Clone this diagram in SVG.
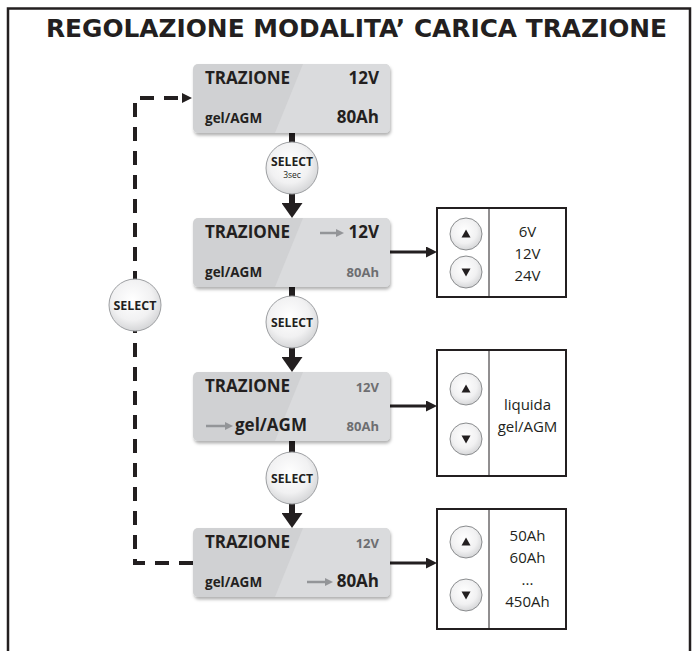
<svg xmlns="http://www.w3.org/2000/svg" xmlns:xlink="http://www.w3.org/1999/xlink" width="696" height="651" viewBox="0 0 696 651">
<defs>
<style>
.title{font-family:'DejaVu Sans',Verdana,sans-serif;font-weight:700;font-size:24px;fill:#231f20}
.big{font-family:'Open Sans','Noto Sans',sans-serif;font-weight:700;font-size:17px;fill:#231f20}
.sm{font-family:'Open Sans','Noto Sans',sans-serif;font-weight:700;font-size:13.5px;fill:#231f20}
.gr{font-family:'Open Sans','Noto Sans',sans-serif;font-weight:700;font-size:13px;fill:#6d6e71}
.sel{font-family:'Open Sans','Noto Sans',sans-serif;font-weight:700;font-size:12.5px;fill:#231f20}
.sec{font-family:'Open Sans','Noto Sans',sans-serif;font-weight:400;font-size:8.5px;fill:#231f20}
.opt{font-family:'Open Sans','Noto Sans',sans-serif;font-weight:400;font-size:15px;fill:#231f20}
.thick{stroke:#231f20;stroke-width:6;fill:none}
.med{stroke:#231f20;stroke-width:3;fill:none}
.dash{stroke:#231f20;stroke-width:4;fill:none;stroke-dasharray:14 10}
.garr{stroke:#939598;stroke-width:2.5;fill:none}
.box{fill:#ffffff;stroke:#231f20;stroke-width:2}
.div{stroke:#231f20;stroke-width:1}
</style>
<radialGradient id="selGrad" cx="0.45" cy="0.4" r="0.65">
<stop offset="0" stop-color="#ffffff"/>
<stop offset="0.6" stop-color="#f1f1f2"/>
<stop offset="1" stop-color="#cfd0d2"/>
</radialGradient>
<filter id="shadow" x="-10%" y="-10%" width="125%" height="135%">
<feDropShadow dx="1" dy="2.5" stdDeviation="1.8" flood-color="#000" flood-opacity="0.3"/>
</filter>
<marker id="ahBig" markerUnits="userSpaceOnUse" markerWidth="15" markerHeight="21" refX="0" refY="10.5" orient="auto">
<path d="M0,0 L15,10.5 L0,21 Z" fill="#231f20"/>
</marker>
<marker id="ahMed" markerUnits="userSpaceOnUse" markerWidth="11" markerHeight="11" refX="0" refY="5.5" orient="auto">
<path d="M0,0 L11,5.5 L0,11 Z" fill="#231f20"/>
</marker>
<marker id="ahSm" markerUnits="userSpaceOnUse" markerWidth="10" markerHeight="10" refX="0" refY="5" orient="auto">
<path d="M0,0 L10,5 L0,10 Z" fill="#231f20"/>
</marker>
<marker id="ahGray" markerUnits="userSpaceOnUse" markerWidth="8" markerHeight="8" refX="0" refY="4" orient="auto">
<path d="M0,0 L8,4 L0,8 Z" fill="#939598"/>
</marker>
<g id="lcdBg">
<rect x="0" y="0" width="197" height="69" rx="5" fill="#d0d1d3" filter="url(#shadow)"/>
<path d="M110,0 H192 A5,5 0 0 1 197,5 V64 A5,5 0 0 1 192,69 H82 Z" fill="#dadbdd"/>
</g>
<g id="selBtn">
<circle cx="0" cy="0" r="26" fill="url(#selGrad)" stroke="#9d9fa2" stroke-width="1"/>
</g>
<g id="btnUp">
<circle cx="0" cy="0" r="16" fill="url(#selGrad)" stroke="#8a8c8e" stroke-width="1"/>
<path d="M-4.5,3.5 L4.5,3.5 L0,-4.5 Z" fill="#231f20"/>
</g>
<g id="btnDown">
<circle cx="0" cy="0" r="16" fill="url(#selGrad)" stroke="#8a8c8e" stroke-width="1"/>
<path d="M-4.5,-3.5 L4.5,-3.5 L0,4.5 Z" fill="#231f20"/>
</g>
</defs>

<rect x="0" y="0" width="696" height="651" fill="#ffffff"/>
<path d="M8,651 V8.5 H690 V651" stroke="#231f20" stroke-width="2.5" fill="none"/>
<text class="title" x="46" y="37" textLength="621" lengthAdjust="spacingAndGlyphs">REGOLAZIONE MODALITA’ CARICA TRAZIONE</text>

<g id="connectors">
<path class="dash" d="M193,563 H135 V98 H182" marker-end="url(#ahSm)"/>
<line class="thick" x1="292" y1="132" x2="292" y2="143"/>
<line class="thick" x1="292" y1="193" x2="292" y2="203" marker-end="url(#ahBig)"/>
<line class="thick" x1="292" y1="287" x2="292" y2="297"/>
<line class="thick" x1="292" y1="347" x2="292" y2="357" marker-end="url(#ahBig)"/>
<line class="thick" x1="292" y1="441" x2="292" y2="453"/>
<line class="thick" x1="292" y1="503" x2="292" y2="513" marker-end="url(#ahBig)"/>
<line class="med" x1="390" y1="252" x2="426" y2="252" marker-end="url(#ahMed)"/>
<line class="med" x1="390" y1="406" x2="426" y2="406" marker-end="url(#ahMed)"/>
<line class="med" x1="390" y1="563" x2="426" y2="563" marker-end="url(#ahMed)"/>
</g>

<g id="lcd1" transform="translate(193,64)">
<use xlink:href="#lcdBg" href="#lcdBg"/>
<text class="big" x="12" y="20">TRAZIONE</text>
<text class="big" x="186" y="20" text-anchor="end">12V</text>
<text class="sm" x="12" y="59">gel/AGM</text>
<text class="big" x="186" y="59" text-anchor="end">80Ah</text>
</g>

<g id="select1" transform="translate(292,168)">
<use xlink:href="#selBtn" href="#selBtn"/>
<text class="sel" x="0" y="-2.5" text-anchor="middle" textLength="42" lengthAdjust="spacingAndGlyphs">SELECT</text>
<text class="sec" x="0" y="10" text-anchor="middle">3sec</text>
</g>

<g id="lcd2" transform="translate(193,218)">
<use xlink:href="#lcdBg" href="#lcdBg"/>
<text class="big" x="12" y="20">TRAZIONE</text>
<line class="garr" x1="127" y1="15" x2="143" y2="15" marker-end="url(#ahGray)"/>
<text class="big" x="186" y="20" text-anchor="end">12V</text>
<text class="sm" x="12" y="59">gel/AGM</text>
<text class="gr" x="186" y="59" text-anchor="end">80Ah</text>
</g>

<g id="options1">
<rect class="box" x="437" y="208" width="129" height="89"/>
<line class="div" x1="489" y1="208" x2="489" y2="297"/>
<use xlink:href="#btnUp" href="#btnUp" x="466" y="234"/>
<use xlink:href="#btnDown" href="#btnDown" x="466" y="272"/>
<text class="opt" x="527.5" y="237" text-anchor="middle">6V</text>
<text class="opt" x="527.5" y="259" text-anchor="middle">12V</text>
<text class="opt" x="527.5" y="281" text-anchor="middle">24V</text>
</g>

<g id="select2" transform="translate(292,322)">
<use xlink:href="#selBtn" href="#selBtn"/>
<text class="sel" x="0" y="4.5" text-anchor="middle" textLength="42" lengthAdjust="spacingAndGlyphs">SELECT</text>
</g>

<g id="lcd3" transform="translate(193,372)">
<use xlink:href="#lcdBg" href="#lcdBg"/>
<text class="big" x="12" y="20">TRAZIONE</text>
<text class="gr" x="186" y="20" text-anchor="end">12V</text>
<line class="garr" x1="13" y1="54" x2="32" y2="54" marker-end="url(#ahGray)"/>
<text class="big" x="42" y="59">gel/AGM</text>
<text class="gr" x="186" y="59" text-anchor="end">80Ah</text>
</g>

<g id="options2">
<rect class="box" x="437" y="350" width="129" height="126"/>
<line class="div" x1="489" y1="350" x2="489" y2="476"/>
<use xlink:href="#btnUp" href="#btnUp" x="466" y="389"/>
<use xlink:href="#btnDown" href="#btnDown" x="466" y="439"/>
<text class="opt" x="527.5" y="410" text-anchor="middle">liquida</text>
<text class="opt" x="527.5" y="432" text-anchor="middle">gel/AGM</text>
</g>

<g id="select3" transform="translate(292,478)">
<use xlink:href="#selBtn" href="#selBtn"/>
<text class="sel" x="0" y="4.5" text-anchor="middle" textLength="42" lengthAdjust="spacingAndGlyphs">SELECT</text>
</g>

<g id="lcd4" transform="translate(193,528)">
<use xlink:href="#lcdBg" href="#lcdBg"/>
<text class="big" x="12" y="20">TRAZIONE</text>
<text class="gr" x="186" y="20" text-anchor="end">12V</text>
<text class="sm" x="12" y="59">gel/AGM</text>
<line class="garr" x1="114" y1="54" x2="132" y2="54" marker-end="url(#ahGray)"/>
<text class="big" x="186" y="59" text-anchor="end">80Ah</text>
</g>

<g id="options3">
<rect class="box" x="437" y="509" width="129" height="120"/>
<line class="div" x1="489" y1="509" x2="489" y2="629"/>
<use xlink:href="#btnUp" href="#btnUp" x="466" y="542"/>
<use xlink:href="#btnDown" href="#btnDown" x="466" y="595"/>
<text class="opt" x="527.5" y="541" text-anchor="middle">50Ah</text>
<text class="opt" x="527.5" y="563" text-anchor="middle">60Ah</text>
<text class="opt" x="527.5" y="585" text-anchor="middle">...</text>
<text class="opt" x="527.5" y="607" text-anchor="middle">450Ah</text>
</g>

<g id="selectLoop" transform="translate(135,305)">
<use xlink:href="#selBtn" href="#selBtn"/>
<text class="sel" x="0" y="4.5" text-anchor="middle" textLength="43" lengthAdjust="spacingAndGlyphs">SELECT</text>
</g>
</svg>
